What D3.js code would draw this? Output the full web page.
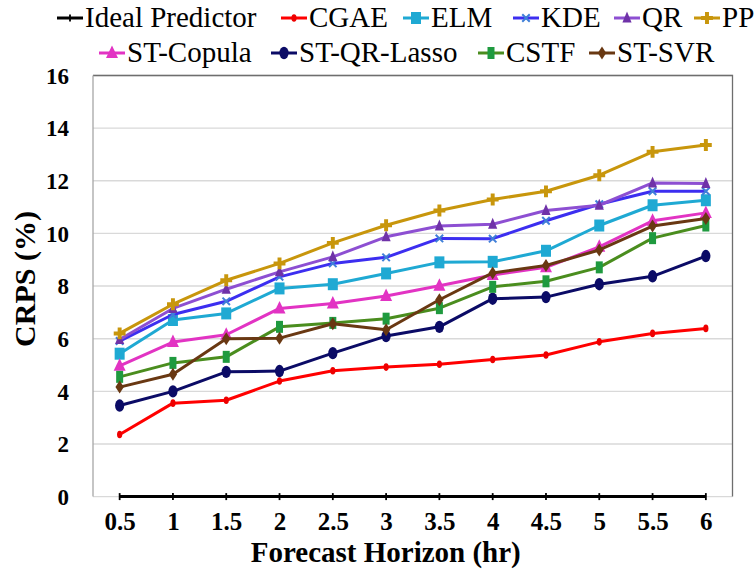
<!DOCTYPE html>
<html>
<head>
<meta charset="utf-8">
<script src="https://cdn.jsdelivr.net/npm/d3@7/dist/d3.min.js"></script>
</head>
<body style="margin:0">
<svg id="chart" width="756" height="576"></svg>
<script>
// Forecast horizons (hr)
const horizons = ["0.5", "1", "1.5", "2", "2.5", "3", "3.5", "4", "4.5", "5", "5.5", "6"];

// CRPS (%) per method
const idealPredictor = [0, 0, 0, 0, 0, 0, 0, 0, 0, 0, 0, 0];
const cgae      = [2.36, 3.55, 3.66, 4.39, 4.78, 4.92, 5.03, 5.21, 5.38, 5.88, 6.20, 6.39];
const elm       = [5.43, 6.71, 6.96, 7.91, 8.07, 8.48, 8.90, 8.92, 9.34, 10.30, 11.07, 11.26];
const kde       = [5.91, 6.92, 7.42, 8.35, 8.86, 9.09, 9.81, 9.80, 10.48, 11.11, 11.60, 11.60];
const qr        = [5.97, 7.15, 7.88, 8.54, 9.11, 9.87, 10.28, 10.35, 10.87, 11.07, 11.92, 11.90];
const pp        = [6.20, 7.31, 8.22, 8.86, 9.64, 10.31, 10.87, 11.29, 11.60, 12.21, 13.10, 13.36];
const stCopula  = [4.97, 5.87, 6.15, 7.15, 7.34, 7.62, 8.01, 8.42, 8.71, 9.49, 10.48, 10.78];
const stQrLasso = [3.46, 4.00, 4.74, 4.77, 5.45, 6.10, 6.45, 7.52, 7.58, 8.07, 8.37, 9.14];
const cstf      = [4.55, 5.08, 5.31, 6.45, 6.60, 6.76, 7.16, 7.97, 8.18, 8.71, 9.82, 10.30];
const stSvr     = [4.16, 4.65, 6.00, 6.02, 6.57, 6.34, 7.48, 8.50, 8.78, 9.37, 10.28, 10.57];

const yTicks = [0, 2, 4, 6, 8, 10, 12, 14, 16];

const series = [
  { name: "Ideal Predictor", values: idealPredictor, line: "#000000", fill: "#000000", shape: "dash" },
  { name: "CGAE",        values: cgae,      line: "#ff0000", fill: "#ee0000", shape: "smallOval" },
  { name: "ELM",         values: elm,       line: "#1fa9d3", fill: "#1fa9d3", shape: "square" },
  { name: "KDE",         values: kde,       line: "#3c2ef0", fill: "#3f7fd8", shape: "x" },
  { name: "QR",          values: qr,        line: "#8d4fd2", fill: "#6f32a8", shape: "triangle" },
  { name: "PP",          values: pp,        line: "#c8960c", fill: "#c8960c", shape: "cross" },
  { name: "ST-Copula",   values: stCopula,  line: "#e233c3", fill: "#e233c3", shape: "bigTriangle" },
  { name: "ST-QR-Lasso", values: stQrLasso, line: "#0b0b66", fill: "#0b0b66", shape: "oval" },
  { name: "CSTF",        values: cstf,      line: "#4a8d1e", fill: "#1f9a3f", shape: "rect" },
  { name: "ST-SVR",      values: stSvr,     line: "#693812", fill: "#693812", shape: "diamond" }
];

const FONT = "Liberation Serif";
const svg = d3.select("#chart");
const plot = { left: 93, right: 732.5, top: 75.5, bottom: 496.6 };

const x = d3.scalePoint().domain(horizons).range([plot.left, plot.right]).padding(0.5);
const y = d3.scaleLinear().domain([0, 16]).range([plot.bottom, plot.top]);

// serif face, size and weight for every label, set on the element with top priority
function label(sel, size, bold) {
  return sel
    .attr("font-family", FONT)
    .attr("font-size", size)
    .attr("font-weight", bold ? "bold" : "normal")
    .attr("fill", "#000")
    .style("font-family", `"${FONT}", "Times New Roman", serif`, "important")
    .style("font-size", `${size}px`, "important")
    .style("font-weight", bold ? "700" : "400", "important");
}

// marker path generators, centred on (0,0)
function ellipsePath(rx, ry) {
  return `M${-rx},0A${rx},${ry} 0 1,0 ${rx},0A${rx},${ry} 0 1,0 ${-rx},0Z`;
}
const markers = {
  dash:        { d: "M-0.9,-3.5H0.9V3.5H-0.9Z" },
  smallOval:   { d: ellipsePath(2.6, 3.8) },
  square:      { d: "M-5,-6H5V6H-5Z" },
  x:           { d: d3.symbol(d3.symbolX, 38)(), stroke: true },
  triangle:    { d: "M0,-6.5L4.6,4.5H-4.6Z" },
  cross:       { d: d3.symbol(d3.symbolCross, 78)() },
  bigTriangle: { d: "M0,-7.5L6,5H-6Z" },
  oval:        { d: ellipsePath(4.6, 6.2) },
  rect:        { d: "M-3.5,-6H3.5V6H-3.5Z" },
  diamond:     { d: "M0,-6.5L4.2,0L0,6.5L-4.2,0Z" }
};

function drawMarker(g, s, cx, cy) {
  const m = markers[s.shape];
  const p = g.append("path")
    .attr("d", m.d)
    .attr("transform", `translate(${cx},${cy})`);
  if (m.stroke) {
    p.attr("fill", "none").attr("stroke", s.fill).attr("stroke-width", 2);
  } else {
    p.attr("fill", s.fill);
  }
}

// gridlines
svg.append("g")
  .selectAll("line")
  .data(yTicks)
  .join("line")
  .attr("x1", plot.left).attr("x2", plot.right)
  .attr("y1", d => y(d)).attr("y2", d => y(d))
  .attr("stroke", "#d9d9d9").attr("stroke-width", 1.4);

// plot-area border
svg.append("path")
  .attr("d", `M${plot.left},${plot.top}H${plot.right}V${plot.bottom}`)
  .attr("fill", "none").attr("stroke", "#6e6e6e").attr("stroke-width", 1.3);
svg.append("line")
  .attr("x1", plot.left).attr("x2", plot.left)
  .attr("y1", plot.top).attr("y2", plot.bottom)
  .attr("stroke", "#a6a6a6").attr("stroke-width", 1.3);

// y axis labels
const yAxis = svg.append("g")
  .attr("transform", `translate(${plot.left},0)`)
  .call(d3.axisLeft(y).tickValues(yTicks).tickSize(0).tickPadding(24));
yAxis.select(".domain").remove();
yAxis.attr("font-family", FONT).attr("font-size", null);
label(yAxis.selectAll("text"), 23, true).attr("dy", "0.34em");

// x axis labels
const xAxis = svg.append("g")
  .attr("transform", `translate(0,${plot.bottom})`)
  .call(d3.axisBottom(x).tickSize(0).tickPadding(0));
xAxis.select(".domain").remove();
xAxis.attr("font-family", FONT).attr("font-size", null);
label(xAxis.selectAll("text"), 25, true).attr("dy", null).attr("y", 33);

// axis titles
label(svg.append("text"), 29, true)
  .attr("x", (plot.left + plot.right) / 2 - 27)
  .attr("y", 562)
  .attr("text-anchor", "middle")
  .text("Forecast Horizon (hr)");

label(svg.append("text"), 30, true)
  .attr("transform", "translate(35,279) rotate(-90)")
  .attr("text-anchor", "middle")
  .text("CRPS (%)");

// series lines and markers
const line = d3.line()
  .x((d, i) => x(horizons[i]))
  .y(d => y(d));

series.forEach(s => {
  const g = svg.append("g");
  g.append("path")
    .attr("d", line(s.values))
    .attr("fill", "none")
    .attr("stroke", s.line)
    .attr("stroke-width", 3)
    .attr("stroke-linejoin", "round");
  s.values.forEach((v, i) => drawMarker(g, s, x(horizons[i]), y(v)));
});

// legend: two rows, swatch start positions per row
const legendRows = [
  { items: series.slice(0, 6), baseline: 27, starts: [57, 281, 403, 513, 614, 694] },
  { items: series.slice(6),    baseline: 62, starts: [99, 271, 478, 589] }
];
const swatch = 26;
legendRows.forEach(row => {
  row.items.forEach((s, i) => {
    const item = svg.append("g").attr("transform", `translate(${row.starts[i]},0)`);
    const cy = row.baseline - 9;
    item.append("line")
      .attr("x1", 0).attr("x2", swatch)
      .attr("y1", cy).attr("y2", cy)
      .attr("stroke", s.line).attr("stroke-width", 3);
    drawMarker(item, s, swatch / 2, cy);
    label(item.append("text"), 29, false)
      .attr("x", swatch + 2)
      .attr("y", row.baseline)
      .text(s.name);
  });
});
</script>
</body>
</html>
